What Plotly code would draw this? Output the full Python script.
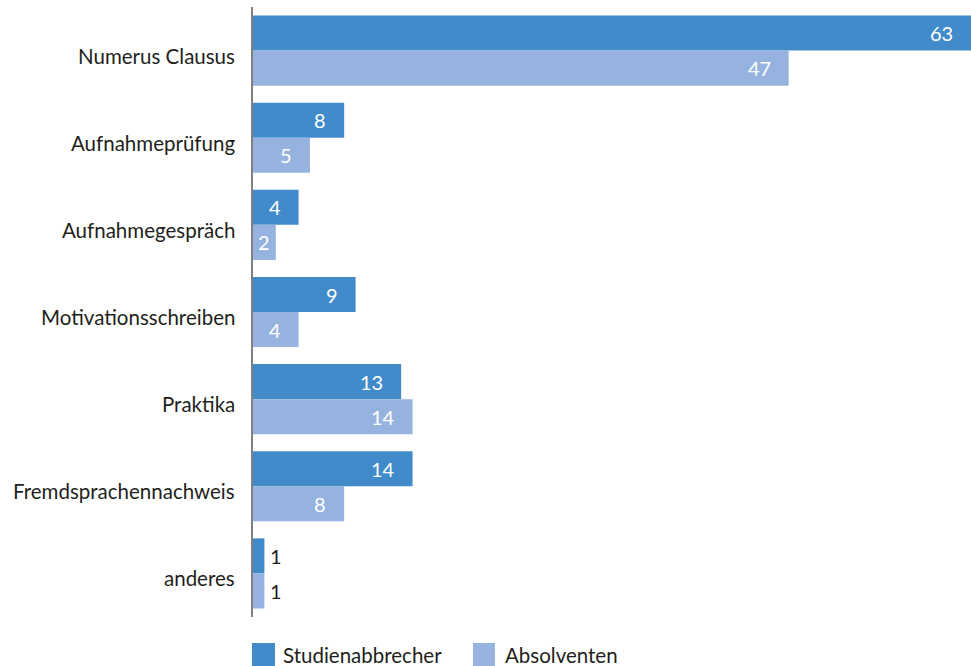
import plotly.graph_objects as go

# Zulassungsvoraussetzungen: Anteile in Prozent
categories = ["Numerus Clausus", "Aufnahmeprüfung", "Aufnahmegespräch",
              "Motivationsschreiben", "Praktika", "Fremdsprachennachweis", "anderes"]
abbrecher = [63, 8, 4, 9, 13, 14, 1]
absolventen = [47, 5, 2, 4, 14, 8, 1]
series_names = ["Studienabbrecher", "Absolventen"]

DARK = "#428bca"
LIGHT = "#95b3de"
TEXT = "#231f20"
FONT = "Lato"

fig = go.Figure()
for name, vals, col in [(series_names[0], abbrecher, DARK), (series_names[1], absolventen, LIGHT)]:
    fig.add_trace(go.Bar(
        y=categories, x=vals, name=name, orientation="h",
        marker=dict(color=col, line=dict(width=0)),
        showlegend=False, hoverinfo="x+y",
    ))

ann = []

# category labels, set slightly below the group centre
for cat in categories:
    ann.append(dict(x=0, y=cat, xref="paper", yref="y", text=cat, showarrow=False,
                    xanchor="right", yanchor="middle", xshift=-16, yshift=-5,
                    font=dict(family=FONT, size=20.5, color=TEXT)))

# value labels: inside the bar end, centred in very short bars, outside for tiny ones
for vals, shift in [(abbrecher, 17.5), (absolventen, -17.5)]:
    for cat, v in zip(categories, vals):
        if v <= 1:
            ann.append(dict(x=v, y=cat, xref="x", yref="y", text=str(v), showarrow=False,
                            xanchor="left", xshift=4, yshift=shift,
                            font=dict(family=FONT, size=20, color=TEXT)))
        elif v < 3:
            ann.append(dict(x=v / 2, y=cat, xref="x", yref="y", text=str(v), showarrow=False,
                            xanchor="center", yshift=shift,
                            font=dict(family=FONT, size=20, color="white")))
        else:
            ann.append(dict(x=v, y=cat, xref="x", yref="y", text=str(v), showarrow=False,
                            xanchor="right", xshift=-16, yshift=shift,
                            font=dict(family=FONT, size=20, color="white")))

# legend drawn below the plot with large square swatches
shapes = []
legend_items = [(series_names[0], DARK, -0.0014, 0.0306, 0.039),
                (series_names[1], LIGHT, 0.3064, 0.337, 0.348)]
for name, col, x0, x1, xt in legend_items:
    shapes.append(dict(type="rect", xref="paper", yref="paper", x0=x0, x1=x1,
                       y0=-0.0803, y1=-0.0426, fillcolor=col, line=dict(width=0)))
    ann.append(dict(x=xt, y=-0.062, xref="paper", yref="paper", text=name, showarrow=False,
                    xanchor="left", yanchor="middle",
                    font=dict(family=FONT, size=20.5, color=TEXT)))

fig.update_layout(
    width=971, height=666,
    margin=dict(l=253, r=0, t=7, b=49),
    barmode="group", bargap=0.195, bargroupgap=0,
    plot_bgcolor="white", paper_bgcolor="white",
    font=dict(family=FONT, size=20.5, color=TEXT),
    xaxis=dict(range=[0, 63], showticklabels=False, showgrid=False, zeroline=False,
               showline=False, fixedrange=True),
    yaxis=dict(autorange="reversed", showgrid=False, zeroline=False, showline=True,
               linecolor="#808080", linewidth=2, ticks="", showticklabels=False),
    annotations=ann, shapes=shapes,
)

fig.write_html("out.html")
